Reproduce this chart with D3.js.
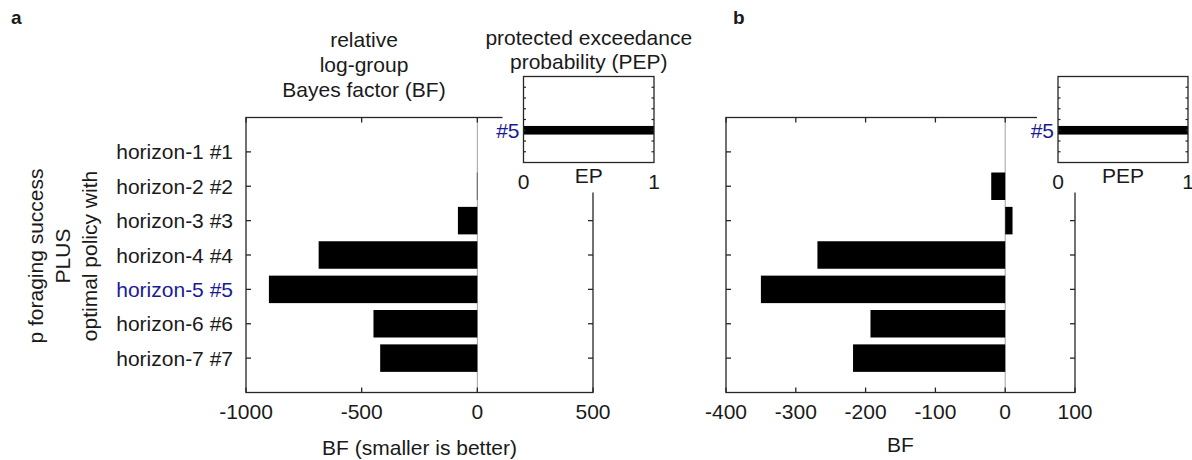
<!DOCTYPE html>
<html>
<head>
<meta charset="utf-8">
<script src="https://cdn.jsdelivr.net/npm/d3@7"></script>
<style>
  html, body { margin: 0; padding: 0; background: #fff; }
  svg { display: block; }
  text { font-family: "Liberation Sans", Arial, Helvetica, sans-serif; fill: #1a1a1a; }
</style>
</head>
<body>
<svg id="chart" width="1192" height="460"></svg>
<script>
// ---------- data ----------
const categories = ["horizon-1 #1", "horizon-2 #2", "horizon-3 #3", "horizon-4 #4",
                    "horizon-5 #5", "horizon-6 #6", "horizon-7 #7"];
const bestIndex = 4;
const bfA = [0, -2, -84, -686, -901, -449, -420];
const bfB = [0, -20, 10.5, -269, -350, -193, -218];
const epA = [0, 0, 0, 0, 1, 0, 0];
const pepB = [0, 0, 0, 0, 1, 0, 0];
const xTicksA = [-1000, -500, 0, 500];
const xTicksB = [-400, -300, -200, -100, 0, 100];
const insetTicks = [0, 1];
const titleA = ["relative", "log-group", "Bayes factor (BF)"];
const insetTitle = ["protected exceedance", "probability (PEP)"];
const yLabelLines = ["p foraging success", "PLUS", "optimal policy with"];

// ---------- drawing ----------
const svg = d3.select("#chart");
const AX = "#262626";
const BLUE = "#1a1a96";
const FS = 21;

function panel(cfg) {
  const g = svg.append("g");
  const x = d3.scaleLinear().domain(cfg.xDomain).range([cfg.left, cfg.right]);
  const y = d3.scaleLinear().domain([0, categories.length + 1]).range([cfg.top, cfg.bottom]);

  // zero line
  g.append("line")
    .attr("x1", x(0)).attr("x2", x(0)).attr("y1", cfg.top).attr("y2", cfg.bottom)
    .attr("stroke", "#a0a0a0").attr("stroke-width", 1);

  // bars
  g.selectAll("rect.bar").data(cfg.values).enter().append("rect")
    .attr("class", "bar")
    .attr("x", d => Math.min(x(0), x(d)))
    .attr("width", d => Math.abs(x(d) - x(0)))
    .attr("y", (d, i) => y(i + 1 - 0.4))
    .attr("height", y(0.8) - y(0))
    .attr("fill", "#000");

  // frame
  g.append("rect")
    .attr("x", cfg.left).attr("y", cfg.top)
    .attr("width", cfg.right - cfg.left).attr("height", cfg.bottom - cfg.top)
    .attr("fill", "none").attr("stroke", AX).attr("stroke-width", 1.3);

  // x ticks (inward, bottom and top)
  const tl = 5;
  cfg.xTicks.forEach(t => {
    g.append("line").attr("x1", x(t)).attr("x2", x(t))
      .attr("y1", cfg.bottom).attr("y2", cfg.bottom - tl).attr("stroke", AX).attr("stroke-width", 1.3);
    g.append("line").attr("x1", x(t)).attr("x2", x(t))
      .attr("y1", cfg.top).attr("y2", cfg.top + tl).attr("stroke", AX).attr("stroke-width", 1.3);
  });
  // y ticks (inward, left and right)
  categories.forEach((c, i) => {
    g.append("line").attr("x1", cfg.left).attr("x2", cfg.left + tl)
      .attr("y1", y(i + 1)).attr("y2", y(i + 1)).attr("stroke", AX).attr("stroke-width", 1.3);
    g.append("line").attr("x1", cfg.right).attr("x2", cfg.right - tl)
      .attr("y1", y(i + 1)).attr("y2", y(i + 1)).attr("stroke", AX).attr("stroke-width", 1.3);
  });

  // x tick labels
  g.selectAll("text.xt").data(cfg.xTicks).enter().append("text")
    .attr("class", "xt")
    .attr("x", d => x(d)).attr("y", 419)
    .attr("text-anchor", "middle").attr("font-size", FS)
    .text(d => d);

  // x label
  g.append("text")
    .attr("x", (cfg.left + cfg.right) / 2).attr("y", cfg.xLabelY)
    .attr("text-anchor", "middle").attr("font-size", FS)
    .text(cfg.xLabel);

  // y tick labels
  if (cfg.yLabels) {
    g.selectAll("text.yt").data(categories).enter().append("text")
      .attr("class", "yt")
      .attr("x", cfg.left - 13).attr("y", (d, i) => y(i + 1))
      .attr("dy", "0.36em")
      .attr("text-anchor", "end").attr("font-size", FS)
      .style("fill", (d, i) => i === bestIndex ? BLUE : "#1a1a1a")
      .text(d => d);
  }

  // ---------- inset ----------
  const ins = cfg.inset;
  // white background covering main frame
  g.append("rect")
    .attr("x", ins.left - 21).attr("y", ins.top - 12)
    .attr("width", ins.right - ins.left + 42).attr("height", ins.bottom - ins.top + 42)
    .attr("fill", "#fff");

  const xi = d3.scaleLinear().domain([0, 1]).range([ins.left, ins.right]);
  const yi = d3.scaleLinear().domain([0, categories.length + 1]).range([ins.top, ins.bottom]);

  g.selectAll("rect.ibar").data(ins.values).enter().append("rect")
    .attr("class", "ibar")
    .attr("x", xi(0))
    .attr("width", d => xi(d) - xi(0))
    .attr("y", (d, i) => yi(i + 1 - 0.4))
    .attr("height", yi(0.8) - yi(0))
    .attr("fill", "#000");

  g.append("rect")
    .attr("x", ins.left).attr("y", ins.top)
    .attr("width", ins.right - ins.left).attr("height", ins.bottom - ins.top)
    .attr("fill", "none").attr("stroke", AX).attr("stroke-width", 1.3);

  categories.forEach((c, i) => {
    g.append("line").attr("x1", ins.left).attr("x2", ins.left + 2.5)
      .attr("y1", yi(i + 1)).attr("y2", yi(i + 1)).attr("stroke", AX).attr("stroke-width", 1.2);
    g.append("line").attr("x1", ins.right).attr("x2", ins.right - 2.5)
      .attr("y1", yi(i + 1)).attr("y2", yi(i + 1)).attr("stroke", AX).attr("stroke-width", 1.2);
  });

  g.append("text")
    .attr("x", ins.left - 4).attr("y", yi(bestIndex + 1))
    .attr("dy", "0.36em").attr("text-anchor", "end").attr("font-size", FS)
    .style("fill", BLUE)
    .text("#" + (bestIndex + 1));

  g.selectAll("text.ixt").data(insetTicks).enter().append("text")
    .attr("class", "ixt")
    .attr("x", d => xi(d)).attr("y", 189)
    .attr("text-anchor", "middle").attr("font-size", FS)
    .text(d => d);

  g.append("text")
    .attr("x", (ins.left + ins.right) / 2).attr("y", 183)
    .attr("text-anchor", "middle").attr("font-size", FS)
    .text(ins.xLabel);

  if (ins.title) {
    ins.title.forEach((t, k) => {
      g.append("text")
        .attr("x", (ins.left + ins.right) / 2).attr("y", 45 + k * 24)
        .attr("text-anchor", "middle").attr("font-size", FS)
        .text(t);
    });
  }
  return { x, y };
}

const pa = panel({
  xDomain: [-1000, 500], left: 246, right: 593, top: 117.5, bottom: 392.5,
  values: bfA, xTicks: xTicksA, xLabel: "BF (smaller is better)", xLabelY: 455,
  yLabels: true,
  inset: { left: 523.5, right: 654, top: 76.5, bottom: 162.5, values: epA, xLabel: "EP", title: insetTitle }
});

const pb = panel({
  xDomain: [-400, 100], left: 726, right: 1075, top: 117.5, bottom: 392.5,
  values: bfB, xTicks: xTicksB, xLabel: "BF", xLabelY: 452,
  yLabels: false,
  inset: { left: 1058, right: 1188, top: 76.5, bottom: 162.5, values: pepB, xLabel: "PEP", title: null }
});

// main title for panel a
titleA.forEach((t, k) => {
  svg.append("text")
    .attr("x", 364).attr("y", 47 + k * 25)
    .attr("text-anchor", "middle").attr("font-size", FS)
    .text(t);
});

// y axis label (rotated, three lines)
const ylx = [43, 70, 97];
yLabelLines.forEach((t, k) => {
  svg.append("text")
    .attr("transform", `translate(${ylx[k]},256) rotate(-90)`)
    .attr("text-anchor", "middle").attr("font-size", FS)
    .text(t);
});

// panel letters
svg.append("text").attr("x", 11).attr("y", 24).attr("font-size", 19).attr("font-weight", "bold").text("a");
svg.append("text").attr("x", 733).attr("y", 24).attr("font-size", 19).attr("font-weight", "bold").text("b");
</script>
</body>
</html>
